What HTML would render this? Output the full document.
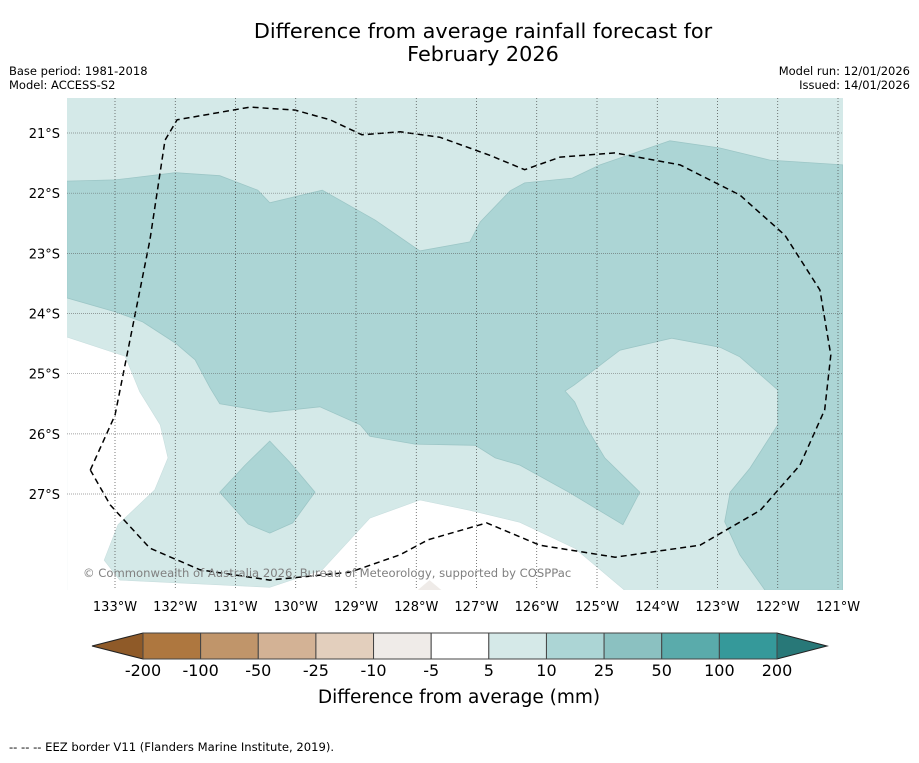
<!DOCTYPE html>
<html><head><meta charset="utf-8"><style>
body{margin:0;background:#fff;font-family:"Liberation Sans","DejaVu Sans",sans-serif}
svg text{font-family:"DejaVu Sans","Liberation Sans",sans-serif}
</style></head><body>
<svg id="c" width="919" height="758" viewBox="0 0 919 758">
<text x="483" y="38" font-size="20.8" text-anchor="middle">Difference from average rainfall forecast for</text>
<text x="483" y="61" font-size="20.8" text-anchor="middle">February 2026</text>
<text x="9" y="75" font-size="11.5">Base period: 1981-2018</text>
<text x="9" y="89" font-size="11.5">Model: ACCESS-S2</text>
<text x="910" y="75" font-size="11.5" text-anchor="end">Model run: 12/01/2026</text>
<text x="910" y="89" font-size="11.5" text-anchor="end">Issued: 14/01/2026</text>
<defs><clipPath id="mc"><rect x="67" y="98" width="776" height="492"/></clipPath></defs>
<g id="map" clip-path="url(#mc)"></g>
<g id="grid"></g>
<text x="83" y="577" font-size="11.6" fill="#808080">© Commonwealth of Australia 2026, Bureau of Meteorology, supported by COSPPac</text>
<g id="axes"></g>
<g id="cbar"></g>
<text x="459" y="703" font-size="18.5" text-anchor="middle">Difference from average (mm)</text>
<text x="9" y="751" font-size="11.6">--  --  -- EEZ border V11 (Flanders Marine Institute, 2019).</text>
</svg>
<script>
const lonTicks=[133,132,131,130,129,128,127,126,125,124,123,122,121];
const latTicks=[21,22,23,24,25,26,27];
const mediumRegion=[[133.8,21.8],[133,21.78],[132,21.66],[131.26,21.71],[130.63,21.95],[130.43,22.16],[129.56,21.95],[128.68,22.45],[127.94,22.96],[127.11,22.81],[126.94,22.48],[126.44,21.96],[126.2,21.83],[125.41,21.75],[124.95,21.53],[123.79,21.13],[122.96,21.25],[122.13,21.45],[120.92,21.53],[120.92,28.6],[122.21,28.6],[122.63,28.01],[122.88,27.46],[122.79,26.97],[122.46,26.57],[122,25.85],[122,25.27],[122.63,24.72],[122.96,24.56],[123.76,24.41],[124.62,24.61],[124.95,24.86],[125.38,25.19],[125.53,25.29],[125.37,25.47],[125.2,25.85],[124.87,26.4],[124.29,26.97],[124.57,27.51],[125.45,26.98],[126.28,26.52],[126.69,26.4],[127.02,26.19],[128.02,26.17],[128.77,26.04],[128.93,25.85],[129.6,25.55],[130.43,25.64],[131.26,25.5],[131.42,25.24],[131.67,24.77],[132,24.49],[132.54,24.14],[133,23.97],[133.8,23.74]];
const whiteRegion=[[133.8,24.39],[132.83,24.71],[132.59,25.3],[132.25,25.85],[132.12,26.4],[132.34,26.93],[132.95,27.51],[133.18,28.1],[132.92,28.43],[130.43,28.55],[129.56,28.26],[128.77,27.4],[127.94,27.1],[127.11,27.27],[126.28,27.47],[125.37,27.9],[124.54,28.6],[133.8,28.6]];
const innerBlob=[[130.43,26.12],[130.1,26.47],[129.68,26.97],[130.05,27.48],[130.43,27.65],[130.79,27.5],[131.26,26.97],[130.84,26.52]];
const dryPatch=[[127.98,28.6],[127.78,28.43],[127.58,28.6]];
const eezBorder=[[133.41,26.6],[133,25.69],[132.8,24.69],[132.42,22.78],[132.17,21.12],[131.97,20.78],[130.76,20.57],[130.01,20.62],[129.43,20.78],[128.9,21.03],[128.27,20.98],[127.61,21.07],[126.78,21.37],[126.2,21.61],[125.61,21.4],[124.7,21.33],[123.62,21.53],[122.63,22.03],[121.88,22.7],[121.3,23.61],[121.12,24.69],[121.22,25.6],[121.63,26.52],[122.29,27.27],[123.29,27.85],[124.7,28.05],[125.95,27.85],[126.83,27.48],[127.8,27.76],[128.27,28.01],[129.1,28.3],[130.43,28.43],[131.59,28.26],[132.42,27.9],[133.08,27.18],[133.41,26.6]];
const cbLabels=["-200","-100","-50","-25","-10","-5","5","10","25","50","100","200"];
const cbColors=["#ae773f","#c0956a","#d3b295","#e3cfbd","#efebe8","#ffffff","#d5e9e8","#acd5d5","#8bc1c1","#5aabab","#35999a"];
const NS="http://www.w3.org/2000/svg";
const X=lon=>115+(133-lon)*60.25, Y=lat=>133+(lat-21)*60.17;
function mk(t,a,p){const e=document.createElementNS(NS,t);for(const k in a)e.setAttribute(k,a[k]);p.appendChild(e);return e;}
const pts=arr=>arr.map(d=>X(d[0]).toFixed(1)+","+Y(d[1]).toFixed(1)).join(" ");
const map=document.getElementById('map');
let r=mk('rect',{x:67,y:98,width:776,height:492,fill:'#d4e9e8'},map);


let p=mk('polygon',{points:pts(mediumRegion),fill:'#acd5d5',stroke:'#9cc6c6','stroke-width':0.8},map);


p=mk('polygon',{points:pts(whiteRegion),fill:'#ffffff',stroke:'#c8dede','stroke-width':0.6},map);


p=mk('polygon',{points:pts(innerBlob),fill:'#acd5d5',stroke:'#9cc6c6','stroke-width':0.8},map);


p=mk('polygon',{points:pts(dryPatch),fill:'#efebe8'},map);


p=mk('polyline',{points:pts(eezBorder),fill:'none',stroke:'#000','stroke-width':1.5,'stroke-dasharray':'6,4','stroke-linejoin':'round'},map);


const grid=document.getElementById('grid'),axes=document.getElementById('axes');
lonTicks.forEach(l=>{const x=X(l);
 let g=mk('line',{x1:x,x2:x,y1:98,y2:590,stroke:'#444','stroke-width':0.7,'stroke-dasharray':'1,2'},grid);
 
 
 let t=mk('text',{x:x,y:611,'font-size':13,'text-anchor':'middle'},axes);t.textContent=l+"°W";
 
 });
latTicks.forEach(l=>{const y=Y(l);
 let g=mk('line',{x1:67,x2:843,y1:y,y2:y,stroke:'#555','stroke-width':0.7,'stroke-dasharray':'1,1',opacity:0.7},grid);
 
 
 let t=mk('text',{x:60,y:y+5,'font-size':13,'text-anchor':'end'},axes);t.textContent=l+"°S";
 
 });
const cb=document.getElementById('cbar');const x0=143,x1=777,w=(x1-x0)/cbColors.length,y0=633,h=26;
let tl=mk('polygon',{points:`92,646 ${x0},${y0} ${x0},${y0+h}`,fill:'#8f5a28',stroke:'#222','stroke-width':1},cb);


let tr=mk('polygon',{points:`827,646 ${x1},${y0} ${x1},${y0+h}`,fill:'#287878',stroke:'#222','stroke-width':1},cb);


cbColors.forEach((c,i)=>{let s=mk('rect',{x:x0+i*w,y:y0,width:w,height:h,fill:c,stroke:'#444','stroke-width':1},cb);
 
 });
cbLabels.forEach((l,i)=>{let t=mk('text',{x:x0+i*w,y:676,'font-size':16,'text-anchor':'middle'},cb);t.textContent=l;
 
 });
</script>
</body></html>
